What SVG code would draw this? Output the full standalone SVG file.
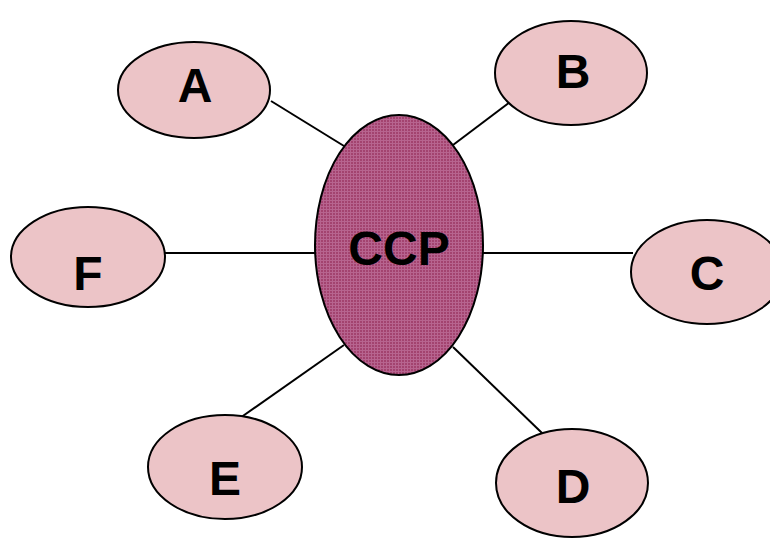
<svg xmlns="http://www.w3.org/2000/svg" width="770" height="539" viewBox="0 0 770 539">
  <style>
    .leaf { fill: #ecc4c7; stroke: #000; stroke-width: 2; }
    .hub { fill: url(#weave); stroke: #000; stroke-width: 2; }
    .label { font-family: "Liberation Sans", Arial, sans-serif; font-weight: bold; font-size: 48px; fill: #000; text-anchor: middle; }
    .link { stroke: #000; stroke-width: 2; fill: none; }
  </style>
  <defs>
    <!-- woven magenta fill for the central ellipse -->
    <pattern id="weave" width="3" height="3" patternUnits="userSpaceOnUse">
      <rect width="3" height="3" fill="#b7648f"/>
      <rect width="2" height="2" fill="#a3436f"/>
    </pattern>
  </defs>
  <rect width="770" height="539" fill="#fff"/>

  <g id="connectors">
    <line class="link" x1="271" y1="101" x2="344" y2="146"/>
    <line class="link" x1="510" y1="102" x2="453" y2="145"/>
    <line class="link" x1="165" y1="253" x2="316" y2="253"/>
    <line class="link" x1="483" y1="253" x2="633" y2="253"/>
    <line class="link" x1="240" y1="418" x2="344" y2="345"/>
    <line class="link" x1="453" y1="347" x2="542" y2="433"/>
  </g>

  <g id="node-A">
    <ellipse class="leaf" cx="194" cy="90" rx="76" ry="48"/>
    <text class="label" x="195" y="102">A</text>
  </g>
  <g id="node-B">
    <ellipse class="leaf" cx="571" cy="73" rx="76" ry="52"/>
    <text class="label" x="573" y="88">B</text>
  </g>
  <g id="node-C">
    <ellipse class="leaf" cx="707" cy="272" rx="76" ry="52"/>
    <text class="label" x="707" y="290">C</text>
  </g>
  <g id="node-D">
    <ellipse class="leaf" cx="572" cy="483" rx="76" ry="54"/>
    <text class="label" x="573" y="503">D</text>
  </g>
  <g id="node-E">
    <ellipse class="leaf" cx="225" cy="467" rx="77" ry="52"/>
    <text class="label" x="225" y="495">E</text>
  </g>
  <g id="node-F">
    <ellipse class="leaf" cx="88" cy="257" rx="77" ry="50"/>
    <text class="label" x="88" y="290">F</text>
  </g>
  <g id="node-CCP">
    <ellipse class="hub" cx="399" cy="245" rx="84" ry="130"/>
    <text class="label" x="399" y="265">CCP</text>
  </g>
</svg>
